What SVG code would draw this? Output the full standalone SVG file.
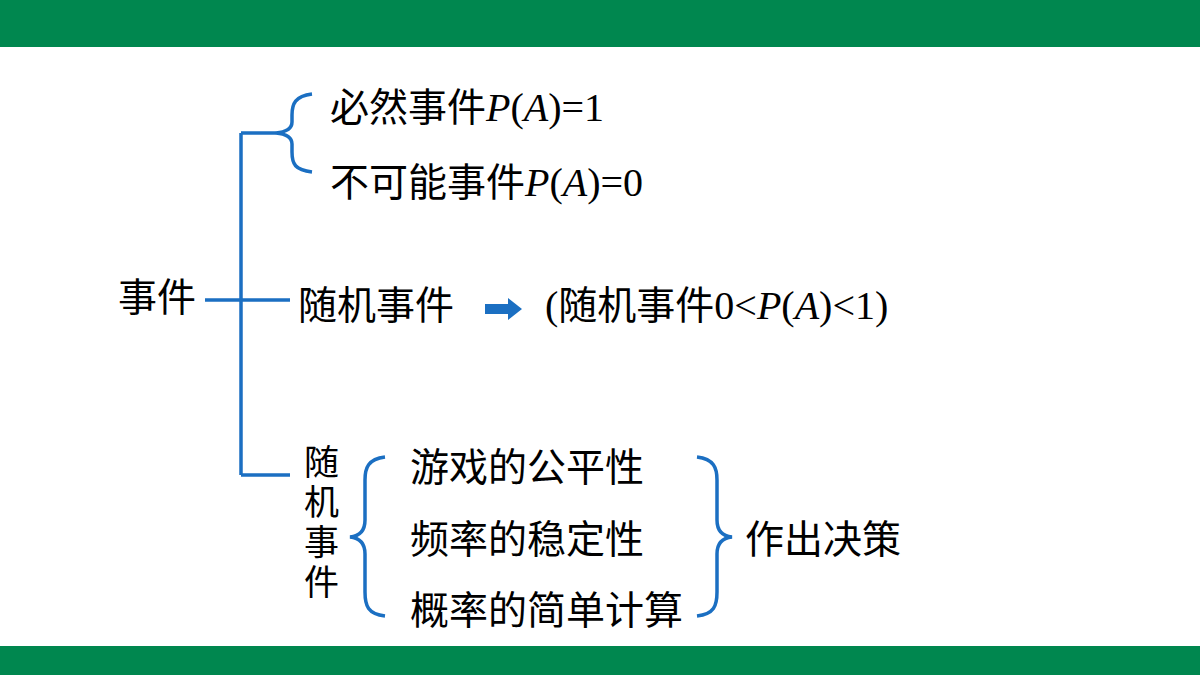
<svg xmlns="http://www.w3.org/2000/svg" width="1200" height="675" viewBox="0 0 1200 675">
<style>
.t{font-family:"Noto Sans CJK SC","Liberation Serif",sans-serif;font-size:39px;fill:#000}
.v{font-family:"Noto Sans CJK SC",sans-serif;font-size:35px;fill:#000}
.m{font-family:"Liberation Serif",serif;font-size:40px}
.c{fill:none;stroke:#1b6fc2;stroke-width:3.5}
</style>
<rect width="1200" height="675" fill="#fff"/>
<rect width="1200" height="47" fill="#00874f"/>
<rect y="646" width="1200" height="29" fill="#00874f"/>
<g id="n1"><text class="t" x="118" y="311">事件</text></g>
<g id="n2"><text class="t" x="330" y="121">必然事件<tspan class="m" font-style="italic">P</tspan><tspan class="m">(</tspan><tspan class="m" font-style="italic">A</tspan><tspan class="m">)=1</tspan></text></g>
<g id="n3"><text class="t" x="330" y="196">不可能事件<tspan class="m" font-style="italic">P</tspan><tspan class="m">(</tspan><tspan class="m" font-style="italic">A</tspan><tspan class="m">)=0</tspan></text></g>
<g id="n4"><text class="t" x="298" y="319">随机事件</text></g>
<g id="n5"><text class="t" x="545" y="319"><tspan class="m">(</tspan>随机事件<tspan class="m">0&lt;</tspan><tspan class="m" font-style="italic">P</tspan><tspan class="m">(</tspan><tspan class="m" font-style="italic">A</tspan><tspan class="m">)&lt;1)</tspan></text></g>
<g id="n6"><text class="v"><tspan x="304" y="475">随</tspan><tspan x="304" y="515">机</tspan><tspan x="304" y="555">事</tspan><tspan x="304" y="595">件</tspan></text></g>
<g id="n7"><text class="t" x="410" y="481">游戏的公平性</text></g>
<g id="n8"><text class="t" x="410" y="553">频率的稳定性</text></g>
<g id="n9"><text class="t" x="410" y="624">概率的简单计算</text></g>
<g id="n10"><text class="t" x="745" y="553">作出决策</text></g>
<g id="connectors">
<path class="c" d="M205 300H290M241 133V475M241 133H276M241 475H290"/>
<path class="c" d="M312 94C295 96 292 104 292 115V122C292 128 286 132 276 133C286 134 292 138 292 144V152C292 164 295 170 312 172"/>
<path class="c" d="M385 457C368 459 365 468 365 480V520C365 530 360 536 350 537C360 538 365 544 365 554V592C365 606 368 614 385 616"/>
<path class="c" d="M697 457C714 459 717 468 717 480V520C717 530 722 536 732 537C722 538 717 544 717 554V592C717 606 714 614 697 616"/>
<path d="M485 304H508V298L522 309L508 320V314H485Z" fill="#1b6fc2"/>
</g>
</svg>
